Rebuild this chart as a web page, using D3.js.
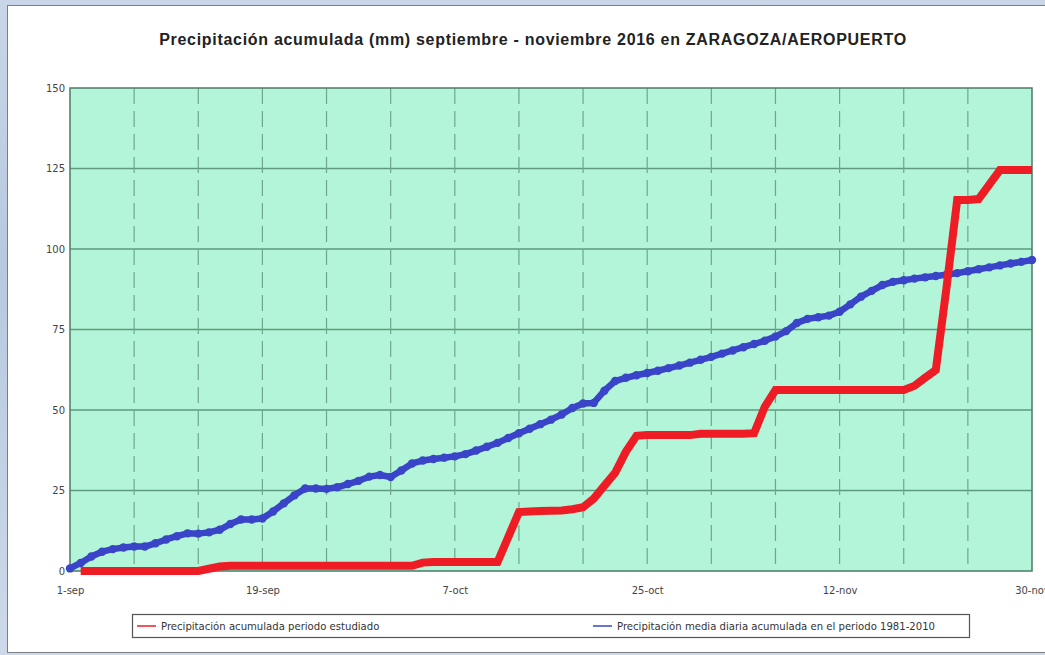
<!DOCTYPE html>
<html>
<head>
<meta charset="utf-8">
<script src="https://cdn.jsdelivr.net/npm/d3@7"></script>
<style>
  html, body { margin: 0; padding: 0; }
  body { width: 1045px; height: 655px; overflow: hidden;
         background: linear-gradient(180deg, #c9d6e8 0%, #b7c8df 40%, #cdd9ea 100%); }
  svg { display: block; }
</style>
</head>
<body>
<div id="chart"></div>
<script>
const title = "Precipitación acumulada (mm) septiembre - noviembre 2016 en ZARAGOZA/AEROPUERTO";
const seriesNames = ["Precipitación acumulada periodo estudiado",
                     "Precipitación media diaria acumulada en el periodo 1981-2010"];

// tick labels (day index from 1-sep)
const xTickDays = [0, 18, 36, 54, 72, 90];
const xTickLabels = ["1-sep", "19-sep", "7-oct", "25-oct", "12-nov", "30-nov"];
const yTicks = [0, 25, 50, 75, 100, 125, 150];

// accumulated precipitation 2016, one value per day (mm)
const observed = [null,
  0, 0, 0, 0, 0, 0, 0, 0, 0, 0, 0, 0, 0.7, 1.4, 1.6, 1.6, 1.6, 1.6, 1.6, 1.6,
  1.6, 1.6, 1.6, 1.6, 1.6, 1.6, 1.6, 1.6, 1.6, 1.6, 1.6, 1.6, 2.6, 2.8, 2.8, 2.8, 2.8, 2.8, 2.8, 2.8,
  10.5, 18.3, 18.5, 18.6, 18.7, 18.8, 19.2, 19.8, 22.5, 26.5, 30.5, 37, 42, 42.2, 42.2, 42.2, 42.2, 42.2, 42.6, 42.6,
  42.6, 42.6, 42.6, 42.8, 51, 56.2, 56.2, 56.2, 56.2, 56.2, 56.2, 56.2, 56.2, 56.2, 56.2, 56.2, 56.2, 56.2, 57.5, 60,
  62.4, 88, 115.2, 115.2, 115.5, 120, 124.5, 124.5, 124.5, 124.5];

// mean daily accumulated precipitation 1981-2010 (mm)
const normal = [0.8,
  2.5, 4.5, 6.0, 6.8, 7.3, 7.6, 7.6, 8.6, 9.8, 10.8, 11.7, 11.6, 12.0, 12.8, 14.6, 16.0, 16.0, 16.3, 18.5, 21.0,
  23.5, 25.6, 25.6, 25.5, 26.0, 27.0, 28.0, 29.3, 29.8, 29.2, 31.2, 33.4, 34.3, 34.8, 35.2, 35.6, 36.3, 37.4, 38.6, 39.8,
  41.3, 42.8, 44.2, 45.6, 47.0, 48.6, 50.6, 52.0, 52.2, 56.0, 59.0, 60.0, 60.8, 61.5, 62.2, 63.0, 63.8, 64.7, 65.6, 66.5,
  67.5, 68.5, 69.5, 70.5, 71.5, 72.8, 74.5, 77.0, 78.3, 78.8, 79.3, 80.5, 82.8, 85.2, 87.0, 88.8, 89.8, 90.3, 90.8, 91.2,
  91.6, 92.0, 92.5, 93.1, 93.7, 94.3, 94.9, 95.5, 96.0, 96.6];

const width = 1045, height = 655;
const plot = {left: 70, right: 1032, top: 88, bottom: 571};

const x = d3.scaleLinear().domain([0, 90]).range([plot.left, plot.right]);
const y = d3.scaleLinear().domain([0, 150]).range([plot.bottom, plot.top]);

const svg = d3.select('#chart').append('svg')
    .attr('width', width)
    .attr('height', height);

// white panel
svg.append('rect')
    .attr('x', 7.5).attr('y', 5.5)
    .attr('width', 1050).attr('height', 647)
    .attr('fill', '#fff')
    .attr('stroke', '#7a7f86');

svg.append('text')
    .attr('x', 533).attr('y', 45)
    .attr('text-anchor', 'middle')
    .style('font-family', 'Arial, "Liberation Sans", sans-serif')
    .style('font-weight', 'bold')
    .style('font-size', '16px')
    .style('letter-spacing', '0.7px')
    .attr('fill', '#222')
    .text(title);

// plot background
svg.append('rect')
    .attr('x', plot.left).attr('y', plot.top)
    .attr('width', plot.right - plot.left)
    .attr('height', plot.bottom - plot.top)
    .attr('fill', '#b3f5d8');

// horizontal grid
svg.selectAll('.hgrid')
    .data(yTicks.slice(1, -1))
    .enter().append('line')
    .attr('class', 'hgrid')
    .attr('x1', plot.left).attr('x2', plot.right)
    .attr('y1', d => y(d)).attr('y2', d => y(d))
    .attr('stroke', '#5f9a7e')
    .attr('stroke-width', 1.5);

// vertical dashed grid every 6 days
svg.selectAll('.vgrid')
    .data(d3.range(6, 90, 6))
    .enter().append('line')
    .attr('class', 'vgrid')
    .attr('x1', d => x(d)).attr('x2', d => x(d))
    .attr('y1', plot.top).attr('y2', plot.bottom)
    .attr('stroke', '#6ea88b')
    .attr('stroke-width', 1.2)
    .attr('stroke-dasharray', '16,7');

// plot border
svg.append('rect')
    .attr('x', plot.left).attr('y', plot.top)
    .attr('width', plot.right - plot.left)
    .attr('height', plot.bottom - plot.top)
    .attr('fill', 'none')
    .attr('stroke', '#4d7a66')
    .attr('stroke-width', 1.5);

// axes
const yAxis = svg.append('g')
    .attr('transform', `translate(${plot.left},0)`)
    .call(d3.axisLeft(y).tickValues(yTicks).tickSize(0).tickPadding(5));
const xAxis = svg.append('g')
    .attr('transform', `translate(0,${plot.bottom})`)
    .call(d3.axisBottom(x).tickValues(xTickDays).tickSize(0).tickPadding(16)
        .tickFormat((d, i) => xTickLabels[i]));
[yAxis, xAxis].forEach(g => {
  g.select('.domain').remove();
  g.selectAll('text')
      .style('font-family', '"DejaVu Sans", Verdana, sans-serif')
      .style('font-size', '10px')
      .attr('fill', '#444');
});

// series
const line = d3.line()
    .defined(d => d != null)
    .x((d, i) => x(i))
    .y(d => y(d));

svg.append('path')
    .datum(normal)
    .attr('fill', 'none')
    .attr('stroke', '#3a44c8')
    .attr('stroke-width', 6.5)
    .attr('stroke-linejoin', 'round')
    .attr('d', line);

svg.selectAll('.pt')
    .data(normal)
    .enter().append('circle')
    .attr('class', 'pt')
    .attr('cx', (d, i) => x(i))
    .attr('cy', d => y(d))
    .attr('r', 4.2)
    .attr('fill', '#3a44c8');

svg.append('path')
    .datum(observed)
    .attr('fill', 'none')
    .attr('stroke', '#ee1c24')
    .attr('stroke-width', 8)
    .attr('stroke-linejoin', 'miter')
    .attr('d', line);

// legend
svg.append('rect')
    .attr('x', 132.5).attr('y', 614.5)
    .attr('width', 837).attr('height', 23)
    .attr('fill', '#fff')
    .attr('stroke', '#555')
    .attr('stroke-width', 1.2);

const legendItems = [
  {name: seriesNames[0], color: '#ee1c24', x: 137},
  {name: seriesNames[1], color: '#3a44c8', x: 593}
];
const lg = svg.selectAll('.lg').data(legendItems).enter().append('g').attr('class', 'lg');
lg.append('line')
    .attr('x1', d => d.x).attr('x2', d => d.x + 19)
    .attr('y1', 626).attr('y2', 626)
    .attr('stroke', d => d.color)
    .attr('stroke-width', 1.5);
lg.append('text')
    .attr('x', d => d.x + 24).attr('y', 629.5)
    .style('font-family', '"DejaVu Sans", Verdana, sans-serif')
    .style('font-size', '10.1px')
    .attr('fill', '#333')
    .text(d => d.name);
</script>
</body>
</html>
